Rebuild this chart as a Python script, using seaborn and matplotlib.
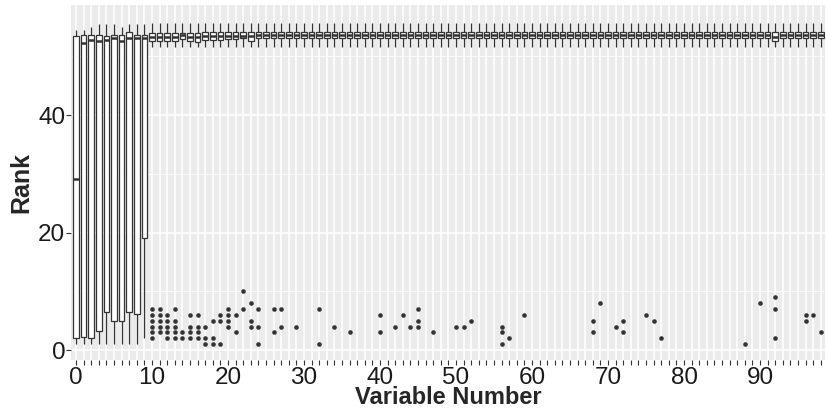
import numpy as np
import pandas as pd
import matplotlib
matplotlib.use("Agg")
import matplotlib.pyplot as plt
import seaborn as sns

# ── Дані: п'ятичислове зведення для кожної змінної (0..98) ──────────
variables = list(range(99))

rank_lo = [1, 1, 1, 1, 1, 1, 1, 1, 1, 2,
           51.6, 51.6, 51.6, 51.6, 51.6, 51.6, 51.6, 51.6, 51.6, 51.6,
           51.6, 51.6, 51.6, 51.6, 51.6, 51.6, 51.6, 51.6, 51.6, 51.6,
           51.6, 51.6, 51.6, 51.6, 51.6, 51.6, 51.6, 51.6, 51.6, 51.6,
           51.6, 51.6, 51.6, 51.6, 51.6, 51.6, 51.6, 51.6, 51.6, 51.6,
           51.6, 51.6, 51.6, 51.6, 51.6, 51.6, 51.6, 51.6, 51.6, 51.6,
           51.6, 51.6, 51.6, 51.6, 51.6, 51.6, 51.6, 51.6, 51.6, 51.6,
           51.6, 51.6, 51.6, 51.6, 51.6, 51.6, 51.6, 51.6, 51.6, 51.6,
           51.6, 51.6, 51.6, 51.6, 51.6, 51.6, 51.6, 51.6, 51.6, 51.6,
           51.6, 51.6, 51.6, 51.6, 51.6, 51.6, 51.6, 51.6, 51.6]

rank_q1 = [2.0, 2.3, 2.0, 3.2, 6.5, 4.9, 4.9, 6.4, 6.2, 19.0,
           52.7, 52.7, 52.7, 52.7, 52.9, 52.7, 52.5, 52.8, 52.8, 52.8,
           52.9, 52.9, 53.1, 52.7, 53.1, 53.1, 53.1, 53.1, 53.1, 53.1,
           53.1, 53.1, 53.1, 53.1, 53.1, 53.1, 53.1, 53.1, 53.1, 53.1,
           53.1, 53.1, 53.1, 53.1, 53.1, 53.1, 53.1, 53.1, 53.1, 53.1,
           53.1, 53.1, 53.1, 53.1, 53.1, 53.1, 53.1, 53.1, 53.1, 53.1,
           53.1, 53.1, 53.1, 53.1, 53.1, 53.1, 53.1, 53.1, 53.1, 53.1,
           53.1, 53.1, 53.1, 53.1, 53.1, 53.1, 53.1, 53.1, 53.1, 53.1,
           53.1, 53.1, 53.1, 53.1, 53.1, 53.1, 53.1, 53.1, 53.1, 53.1,
           53.1, 53.1, 52.7, 53.1, 53.1, 53.1, 53.1, 53.1, 53.1]

rank_med = [29.2, 52.3, 52.8, 52.6, 52.8, 53.1, 52.7, 53.2, 53.2, 53.2,
            53.3, 53.3, 53.3, 53.3, 53.6, 53.3, 53.3, 53.4, 53.4, 53.4,
            53.4, 53.4, 53.4, 53.4, 53.6, 53.6, 53.6, 53.6, 53.6, 53.6,
            53.6, 53.6, 53.6, 53.6, 53.6, 53.6, 53.6, 53.6, 53.6, 53.6,
            53.6, 53.6, 53.6, 53.6, 53.6, 53.6, 53.6, 53.6, 53.6, 53.6,
            53.6, 53.6, 53.6, 53.6, 53.6, 53.6, 53.6, 53.6, 53.6, 53.6,
            53.6, 53.6, 53.6, 53.6, 53.6, 53.6, 53.6, 53.6, 53.6, 53.6,
            53.6, 53.6, 53.6, 53.6, 53.6, 53.6, 53.6, 53.6, 53.6, 53.6,
            53.6, 53.6, 53.6, 53.6, 53.6, 53.6, 53.6, 53.6, 53.6, 53.6,
            53.6, 53.6, 53.3, 53.6, 53.6, 53.6, 53.6, 53.6, 53.6]

rank_q3 = [53.4, 53.6, 53.6, 53.6, 53.5, 53.6, 53.6, 54.1, 53.6, 53.6,
           54.0, 54.0, 54.0, 54.0, 54.0, 54.0, 54.0, 54.1, 54.1, 54.1,
           54.1, 54.1, 54.1, 54.1, 54.1, 54.1, 54.1, 54.1, 54.1, 54.1,
           54.1, 54.1, 54.1, 54.1, 54.1, 54.1, 54.1, 54.1, 54.1, 54.1,
           54.1, 54.1, 54.1, 54.1, 54.1, 54.1, 54.1, 54.1, 54.1, 54.1,
           54.1, 54.1, 54.1, 54.1, 54.1, 54.1, 54.1, 54.1, 54.1, 54.1,
           54.1, 54.1, 54.1, 54.1, 54.1, 54.1, 54.1, 54.1, 54.1, 54.1,
           54.1, 54.1, 54.1, 54.1, 54.1, 54.1, 54.1, 54.1, 54.1, 54.1,
           54.1, 54.1, 54.1, 54.1, 54.1, 54.1, 54.1, 54.1, 54.1, 54.1,
           54.1, 54.1, 54.1, 54.1, 54.1, 54.1, 54.1, 54.1, 54.1]

rank_hi = [54.5, 54.5, 55.0, 55.5, 55.5, 55.5, 55.0, 55.5, 55.5, 55.5,
           55.6, 55.6, 55.6, 55.6, 55.6, 55.6, 55.6, 55.6, 55.6, 55.6,
           55.6, 55.6, 55.6, 55.6, 55.6, 55.6, 55.6, 55.6, 55.6, 55.6,
           55.6, 55.6, 55.6, 55.6, 55.6, 55.6, 55.6, 55.6, 55.6, 55.6,
           55.6, 55.6, 55.6, 55.6, 55.6, 55.6, 55.6, 55.6, 55.6, 55.6,
           55.6, 55.6, 55.6, 55.6, 55.6, 55.6, 55.6, 55.6, 55.6, 55.6,
           55.6, 55.6, 55.6, 55.6, 55.6, 55.6, 55.6, 55.6, 55.6, 55.6,
           55.6, 55.6, 55.6, 55.6, 55.6, 55.6, 55.6, 55.6, 55.6, 55.6,
           55.6, 55.6, 55.6, 55.6, 55.6, 55.6, 55.6, 55.6, 55.6, 55.6,
           55.6, 55.6, 55.6, 55.6, 55.6, 55.6, 55.6, 55.6, 55.6]

# викиди (номер змінної, ранг)
out_var = [10, 10, 10, 10, 10, 10, 11, 11, 11, 11, 11,
           12, 12, 12, 12, 12, 13, 13, 13, 13, 13, 14, 14,
           15, 15, 15, 15, 16, 16, 16, 16, 17, 17, 17, 18, 18, 18,
           19, 19, 19, 20, 20, 20, 20, 21, 21, 22, 22, 23, 23, 23,
           24, 24, 24, 26, 26, 27, 27, 29, 32, 32, 34, 36, 40, 40,
           42, 43, 44, 45, 45, 45, 47, 50, 51, 52, 56, 56, 56, 57,
           59, 68, 68, 69, 71, 72, 72, 75, 76, 77, 88, 90,
           92, 92, 92, 96, 96, 97, 98]
out_rank = [7, 6, 5, 4, 3, 2, 7, 6, 5, 4, 3,
            6, 5, 4, 3, 2, 7, 5, 4, 3, 2, 3, 2,
            6, 4, 3, 2, 6, 4, 3, 2, 4, 2, 1, 5, 2, 1,
            6, 5, 1, 7, 6, 5, 4, 6, 3, 10, 7, 8, 5, 4,
            7, 4, 1, 7, 3, 7, 4, 4, 7, 1, 4, 3, 6, 3,
            4, 6, 4, 7, 5, 4, 3, 4, 4, 5, 4, 3, 1, 2,
            6, 5, 3, 8, 4, 5, 3, 6, 5, 2, 1, 8,
            9, 7, 2, 6, 5, 6, 3]

# ── Таблиця: 5 значень на змінну -> квартилі збігаються зі зведенням ──
order = [str(v) for v in variables]
rows = []
for v, lo, q1, md, q3, hi in zip(variables, rank_lo, rank_q1, rank_med, rank_q3, rank_hi):
    for r in (lo, q1, md, q3, hi):
        rows.append((str(v), r))
df = pd.DataFrame(rows, columns=["var", "rank"])
df_out = pd.DataFrame({"var": [str(v) for v in out_var], "rank": out_rank})

# ── Стиль у дусі ggplot2 ─────────────────────────────────────────
sns.set_theme(style="darkgrid", rc={"axes.facecolor": "#EBEBEB",
                                    "grid.color": "white"})
plt.rcParams["font.family"] = ["Liberation Sans", "DejaVu Sans"]

fig = plt.figure(figsize=(8.27, 4.09), dpi=100)
ax = fig.add_axes([71.4 / 827, 1 - 360.3 / 409, 754 / 827, 355.3 / 409])

sns.boxplot(data=df, x="var", y="rank", order=order, ax=ax,
            whis=(0, 100), showfliers=False, showcaps=False,
            color="white", linecolor="#333333", linewidth=0.9, width=0.75,
            medianprops={"linewidth": 1.8, "color": "#333333"})
sns.stripplot(data=df_out, x="var", y="rank", order=order, ax=ax,
              jitter=False, color="#333333", size=3.3, linewidth=0, zorder=3)

ax.set_xlim(-0.6, 98.6)
ax.set_ylim(-1.75, 58.75)
ax.set_xticks(range(len(order)))
ax.set_xticklabels([o if int(o) % 10 == 0 else "" for o in order])
ax.set_yticks([0, 20, 40])
ax.set_yticks([10, 30, 50], minor=True)
ax.grid(which="major", color="white", linewidth=1.1)
ax.grid(which="minor", axis="y", color="white", linewidth=0.55)
ax.set_axisbelow(True)
for s in ax.spines.values():
    s.set_visible(False)

ax.tick_params(axis="both", which="major", length=3.5, width=0.8,
               color="#333333", labelsize=17.5, labelcolor="#1a1a1a", pad=1.0,
               bottom=True, left=True)
ax.tick_params(axis="y", which="minor", length=0)
ax.set_xlabel("Variable Number", fontsize=17, fontweight="bold", labelpad=-1.5)
ax.set_ylabel("Rank", fontsize=18, fontweight="bold", labelpad=3)

fig.savefig("out.png", dpi=100)
